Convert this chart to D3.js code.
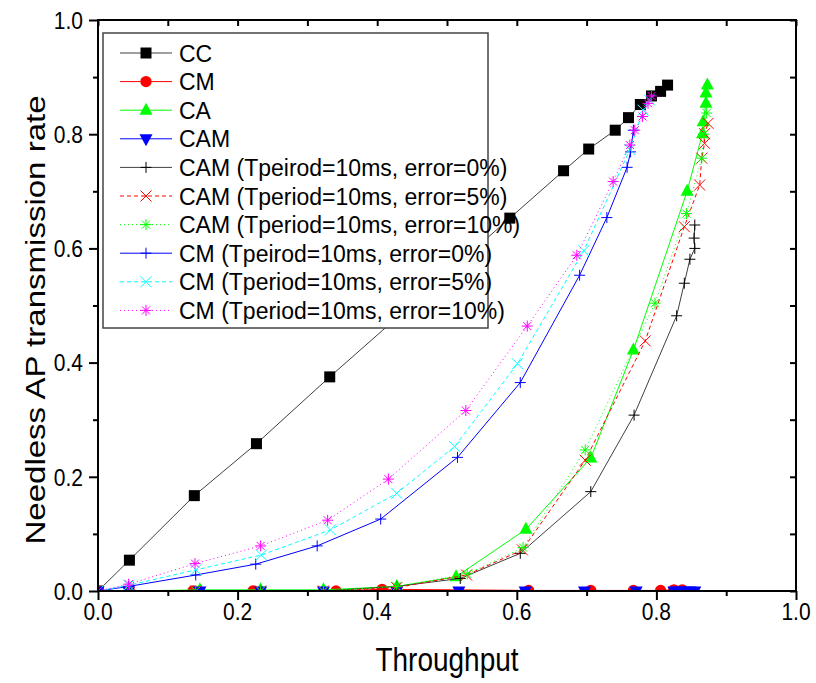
<!DOCTYPE html>
<html>
<head>
<meta charset="utf-8">
<script src="https://cdn.jsdelivr.net/npm/d3@7"></script>
<style>
  body { margin: 0; background: #fff; }
  text { font-family: Arial, "Liberation Sans", sans-serif; fill: #000; }
</style>
</head>
<body>
<svg id="chart" width="816" height="683"></svg>
<script>
// Valores (throughput, taxa)
const ccX = [0, 0.045, 0.138, 0.227, 0.332, 0.59, 0.667, 0.703, 0.741, 0.760, 0.777, 0.793, 0.806, 0.816];
const ccY = [0, 0.054, 0.167, 0.258, 0.375, 0.653, 0.736, 0.774, 0.807, 0.829, 0.852, 0.867, 0.875, 0.886];

const cmX = [0, 0.045, 0.136, 0.222, 0.341, 0.407, 0.617, 0.706, 0.767, 0.806, 0.825, 0.837];
const cmY = [0, 0, 0, 0, 0, 0.003, 0.001, 0.001, 0.001, 0.001, 0.002, 0.002];

const caX = [0, 0.045, 0.146, 0.233, 0.323, 0.428, 0.513, 0.613, 0.706, 0.767, 0.844, 0.866, 0.867, 0.871, 0.871, 0.873];
const caY = [0, 0, 0.002, 0.002, 0.002, 0.008, 0.025, 0.108, 0.233, 0.422, 0.70, 0.801, 0.822, 0.854, 0.872, 0.886];

const camX = [0, 0.044, 0.146, 0.233, 0.323, 0.428, 0.517, 0.612, 0.697, 0.771, 0.825, 0.833, 0.840, 0.848, 0.855];
const camY = [0, 0, 0, 0, 0, 0, 0, 0, 0, 0, 0, 0, 0, 0, 0];

const camE0X = [0, 0.045, 0.14, 0.233, 0.323, 0.428, 0.519, 0.605, 0.706, 0.768, 0.829, 0.840, 0.848, 0.855, 0.854, 0.855];
const camE0Y = [0, 0, 0, 0, 0, 0.008, 0.022, 0.066, 0.174, 0.308, 0.482, 0.539, 0.581, 0.60, 0.618, 0.641];

const camE5X = [0, 0.045, 0.14, 0.233, 0.323, 0.428, 0.528, 0.608, 0.698, 0.784, 0.840, 0.862, 0.865, 0.869, 0.869, 0.874];
const camE5Y = [0, 0, 0, 0, 0, 0.006, 0.028, 0.072, 0.229, 0.438, 0.638, 0.711, 0.758, 0.784, 0.801, 0.819];

const camE10X = [0, 0.045, 0.14, 0.233, 0.323, 0.428, 0.529, 0.609, 0.698, 0.798, 0.843, 0.865, 0.868, 0.872];
const camE10Y = [0, 0, 0, 0, 0, 0.008, 0.030, 0.076, 0.247, 0.504, 0.661, 0.758, 0.80, 0.837];

const cmE0X = [0, 0.044, 0.14, 0.226, 0.314, 0.405, 0.515, 0.605, 0.69, 0.729, 0.758, 0.763, 0.767];
const cmE0Y = [0, 0.008, 0.028, 0.047, 0.079, 0.126, 0.234, 0.365, 0.553, 0.654, 0.742, 0.769, 0.807];

const cmE5X = [0, 0.044, 0.14, 0.234, 0.333, 0.428, 0.511, 0.601, 0.696, 0.762, 0.781, 0.79];
const cmE5Y = [0, 0.01, 0.037, 0.063, 0.107, 0.171, 0.253, 0.398, 0.596, 0.773, 0.842, 0.86];

const cmE10X = [0, 0.044, 0.139, 0.233, 0.329, 0.416, 0.527, 0.615, 0.686, 0.738, 0.762, 0.769, 0.78, 0.788, 0.793];
const cmE10Y = [0, 0.012, 0.048, 0.079, 0.124, 0.196, 0.316, 0.464, 0.588, 0.717, 0.781, 0.807, 0.831, 0.854, 0.867];

const seriesNames = [
  "CC", "CM", "CA", "CAM",
  "CAM (Tpeirod=10ms, error=0%)",
  "CAM (Tperiod=10ms, error=5%)",
  "CAM (Tperiod=10ms, error=10%)",
  "CM (Tpeirod=10ms, error=0%)",
  "CM (Tperiod=10ms, error=5%)",
  "CM (Tperiod=10ms, error=10%)"
];
const xTicks = [0, 0.2, 0.4, 0.6, 0.8, 1.0];
const yTicks = [0, 0.2, 0.4, 0.6, 0.8, 1.0];

// Estilo de cada série: cor, traço e marcador
const styles = [
  { color: "#000000", line: "#404040", dash: null, mark: "square" },
  { color: "#ff0000", line: "#ff0000", dash: null, mark: "circle" },
  { color: "#00ff00", line: "#00ff00", dash: null, mark: "triUp" },
  { color: "#0000ff", line: "#0000ff", dash: null, mark: "triDown" },
  { color: "#000000", line: "#404040", dash: null, mark: "plus" },
  { color: "#ff0000", line: "#ff0000", dash: "4,3", mark: "cross" },
  { color: "#00ff00", line: "#00ff00", dash: "1,3", mark: "star" },
  { color: "#0000ff", line: "#0000ff", dash: null, mark: "plus" },
  { color: "#00ffff", line: "#00ffff", dash: "4,3", mark: "cross" },
  { color: "#ff00ff", line: "#ff00ff", dash: "1,3", mark: "star" }
];

const rawX = [ccX, cmX, caX, camX, camE0X, camE5X, camE10X, cmE0X, cmE5X, cmE10X];
const rawY = [ccY, cmY, caY, camY, camE0Y, camE5Y, camE10Y, cmE0Y, cmE5Y, cmE10Y];
const series = seriesNames.map((name, i) => ({
  name,
  style: styles[i],
  points: rawX[i].map((x, j) => ({ x, y: rawY[i][j] }))
}));

const svg = d3.select("#chart");
const margin = { top: 20, right: 20, bottom: 92, left: 98 };
const W = 816 - margin.left - margin.right;   // 698
const H = 683 - margin.top - margin.bottom;   // 571
const stretch = 1.18; // o texto da figura original está esticado na vertical

const xScale = d3.scaleLinear().domain([0, 1]).range([0, W]);
const yScale = d3.scaleLinear().domain([0, 1]).range([H, 0]);

const g = svg.append("g").attr("transform", `translate(${margin.left},${margin.top})`);

svg.append("defs").append("clipPath").attr("id", "plotClip")
  .append("rect").attr("x", 0).attr("y", 0).attr("width", W).attr("height", H);

// Caminhos dos marcadores
function markerPath(type) {
  const s = 5.5;
  switch (type) {
    case "square": return `M${-s},${-s}H${s}V${s}H${-s}Z`;
    case "circle": return d3.symbol(d3.symbolCircle, 100)();
    case "triUp": return `M0,${-7.5}L6.5,4.5L-6.5,4.5Z`;
    case "triDown": return `M0,7.5L6.5,-4.5L-6.5,-4.5Z`;
    case "plus": return `M${-s},0H${s}M0,${-s}V${s}`;
    case "cross": return `M${-s},${-s}L${s},${s}M${-s},${s}L${s},${-s}`;
    case "star": return `M${-s},0H${s}M0,${-s}V${s}M${-4},${-4}L4,4M${-4},4L4,${-4}`;
  }
}
const filled = m => ["square", "circle", "triUp", "triDown"].includes(m);

function drawMarker(sel, st) {
  const f = filled(st.mark);
  sel.attr("d", markerPath(st.mark))
    .attr("fill", f ? st.color : "none")
    .attr("stroke", f ? "none" : st.color)
    .attr("stroke-width", f ? 0 : 1);
}

const plot = g.append("g").attr("clip-path", "url(#plotClip)");
const line = d3.line().x(d => xScale(d.x)).y(d => yScale(d.y));

series.forEach(s => {
  const sg = plot.append("g");
  sg.append("path")
    .datum(s.points)
    .attr("fill", "none")
    .attr("stroke", s.style.line)
    .attr("stroke-width", 1)
    .attr("stroke-dasharray", s.style.dash)
    .attr("d", line);
  sg.selectAll("path.mk")
    .data(s.points)
    .enter().append("path")
    .attr("class", "mk")
    .attr("transform", d => `translate(${xScale(d.x)},${yScale(d.y)})`)
    .call(drawMarker, s.style);
});

// Eixos com ticks maiores e menores (rótulos desenhados à parte)
const minor = d3.range(0.1, 1, 0.2);
function axisTicks(axis, values, size, transform) {
  const a = g.append("g").attr("transform", transform || null)
    .call(axis.tickValues(values).tickFormat("").tickSize(size));
  a.select(".domain").remove();
  a.selectAll(".tick line").attr("stroke", "#000").attr("stroke-width", 2);
}
axisTicks(d3.axisBottom(xScale), xTicks, 9, `translate(0,${H})`);
axisTicks(d3.axisBottom(xScale), minor, 5, `translate(0,${H})`);
axisTicks(d3.axisLeft(yScale), yTicks, 9);
axisTicks(d3.axisLeft(yScale), minor, 5);
// topo e direita: ticks para dentro
axisTicks(d3.axisBottom(xScale), xTicks.concat(minor), 6);
axisTicks(d3.axisRight(yScale), yTicks.concat(minor), -6, `translate(${W},0)`);

const fmt = d3.format(".1f");
g.selectAll("text.xt").data(xTicks).enter().append("text")
  .attr("class", "xt")
  .attr("transform", d => `translate(${xScale(d)},${H + 29}) scale(1,${stretch})`)
  .attr("text-anchor", "middle")
  .attr("font-size", 21)
  .text(fmt);
g.selectAll("text.yt").data(yTicks).enter().append("text")
  .attr("class", "yt")
  .attr("transform", d => `translate(-15,${yScale(d) + 8.8}) scale(1,${stretch})`)
  .attr("text-anchor", "end")
  .attr("font-size", 21)
  .text(fmt);

// Moldura
g.append("rect")
  .attr("width", W).attr("height", H)
  .attr("fill", "none").attr("stroke", "#000").attr("stroke-width", 2);

// Legenda
const lg = g.append("g").attr("transform", "translate(5,13)");
lg.append("rect")
  .attr("width", 385).attr("height", 295)
  .attr("fill", "#fff").attr("stroke", "#444").attr("stroke-width", 1.5);
series.forEach((s, i) => {
  const y = 20 + i * 28.6;
  const row = lg.append("g").attr("transform", `translate(0,${y})`);
  row.append("line")
    .attr("x1", 17).attr("x2", 69).attr("y1", 0).attr("y2", 0)
    .attr("stroke", s.style.line).attr("stroke-width", 1)
    .attr("stroke-dasharray", s.style.dash);
  row.append("path")
    .attr("transform", "translate(43,0)")
    .call(drawMarker, s.style);
  row.append("text")
    .attr("transform", "translate(76,8.5) scale(1,1.05)")
    .attr("font-size", 23)
    .text(s.name);
});

// Títulos dos eixos
svg.append("text")
  .attr("transform", `translate(${margin.left + W / 2},671) scale(1,${stretch})`)
  .attr("text-anchor", "middle")
  .attr("font-size", 28)
  .text("Throughput");
svg.append("text")
  .attr("transform", `translate(45,320) rotate(-90) scale(${stretch},1)`)
  .attr("text-anchor", "middle")
  .attr("font-size", 28)
  .text("Needless AP transmission rate");
</script>
</body>
</html>
